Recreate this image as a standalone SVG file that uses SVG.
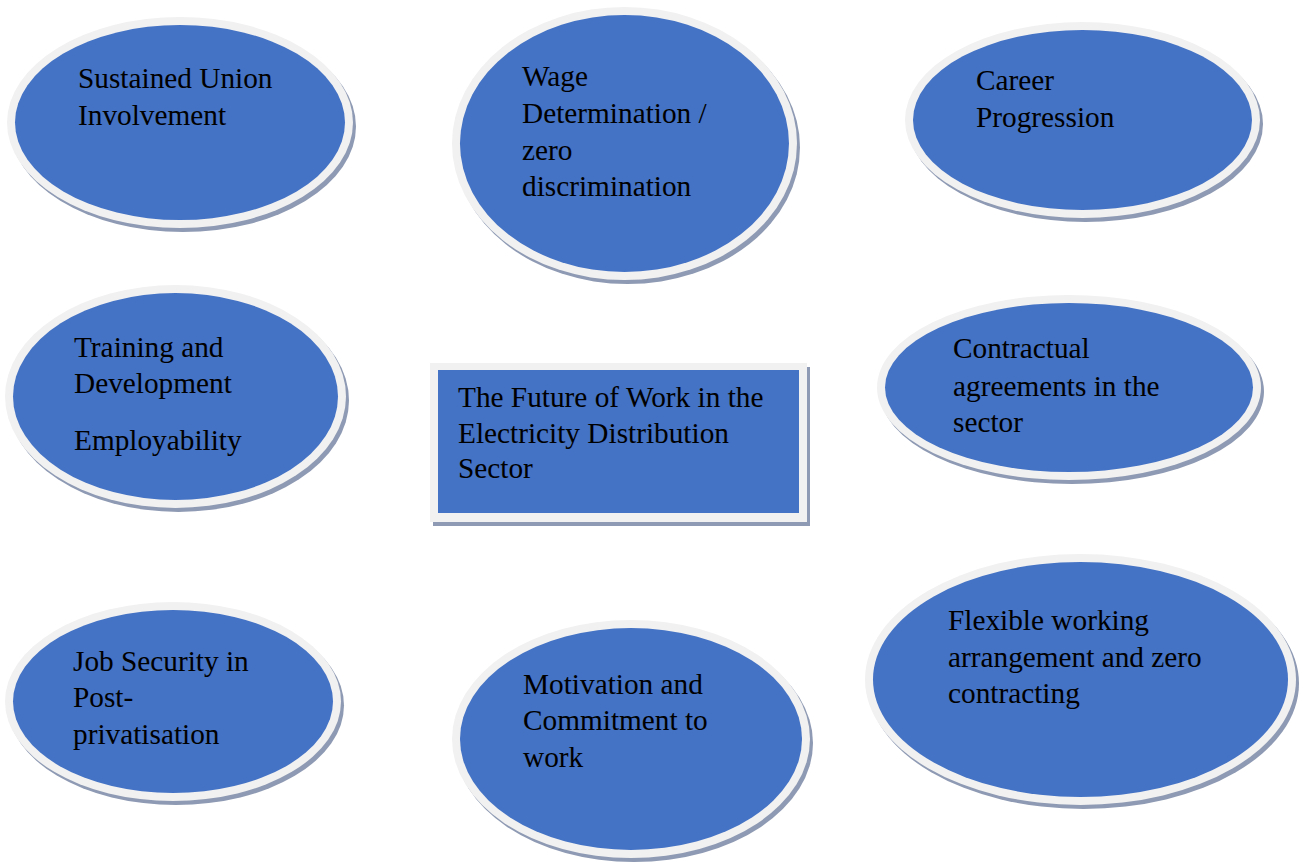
<svg xmlns="http://www.w3.org/2000/svg" width="1304" height="862" viewBox="0 0 1304 862">
<style>
.sh{fill:#8E9AB3}
.rg{fill:#F1F1F1}
.bl{fill:#4472C4}
text{font-family:"Liberation Serif","Times New Roman",serif;font-size:29.3px;fill:#000}
</style>
<rect width="1304" height="862" fill="#FFFFFF"/>
<g id="n-union">
<ellipse class="sh" cx="183" cy="126.5" rx="173" ry="105.5"/>
<ellipse class="rg" cx="180" cy="122.5" rx="173" ry="105.5"/>
<ellipse class="bl" cx="180" cy="122.5" rx="165" ry="97.5"/>
<text x="78" y="88">Sustained Union</text>
<text x="78" y="125">Involvement</text>
</g>
<g id="n-wage">
<ellipse class="sh" cx="627.5" cy="147.5" rx="172.5" ry="136.5"/>
<ellipse class="rg" cx="624.5" cy="143.5" rx="172.5" ry="136.5"/>
<ellipse class="bl" cx="624.5" cy="143.5" rx="164.5" ry="128.5"/>
<text x="522" y="86">Wage</text>
<text x="522" y="123">Determination /</text>
<text x="522" y="159.5">zero</text>
<text x="522" y="196">discrimination</text>
</g>
<g id="n-career">
<ellipse class="sh" cx="1085.5" cy="124" rx="177.5" ry="98"/>
<ellipse class="rg" cx="1082.5" cy="120" rx="177.5" ry="98"/>
<ellipse class="bl" cx="1082.5" cy="120" rx="169.5" ry="90"/>
<text x="976" y="90">Career</text>
<text x="976" y="127">Progression</text>
</g>
<g id="n-training">
<ellipse class="sh" cx="178.5" cy="400.5" rx="170.5" ry="111.5"/>
<ellipse class="rg" cx="175.5" cy="396.5" rx="170.5" ry="111.5"/>
<ellipse class="bl" cx="175.5" cy="396.5" rx="162.5" ry="103.5"/>
<text x="74" y="357">Training and</text>
<text x="74" y="393">Development</text>
<text x="74" y="450">Employability</text>
</g>
<g id="n-center">
<rect class="sh" x="433" y="367" width="377" height="159"/>
<rect class="rg" x="430" y="363" width="377" height="159"/>
<rect class="bl" x="438" y="370" width="361" height="143"/>
<text x="458" y="407">The Future of Work in the</text>
<text x="458" y="443">Electricity Distribution</text>
<text x="458" y="478">Sector</text>
</g>
<g id="n-contract">
<ellipse class="sh" cx="1072" cy="391.5" rx="192" ry="92.5"/>
<ellipse class="rg" cx="1069" cy="387.5" rx="192" ry="92.5"/>
<ellipse class="bl" cx="1069" cy="387.5" rx="184" ry="84.5"/>
<text x="953" y="358">Contractual</text>
<text x="953" y="396">agreements in the</text>
<text x="953" y="432">sector</text>
</g>
<g id="n-job">
<ellipse class="sh" cx="176" cy="705.5" rx="168" ry="99.5"/>
<ellipse class="rg" cx="173" cy="701.5" rx="168" ry="99.5"/>
<ellipse class="bl" cx="173" cy="701.5" rx="160" ry="91.5"/>
<text x="73" y="671">Job Security in</text>
<text x="73" y="707">Post-</text>
<text x="73" y="744">privatisation</text>
</g>
<g id="n-motivation">
<ellipse class="sh" cx="634" cy="743" rx="179" ry="119"/>
<ellipse class="rg" cx="631" cy="739" rx="179" ry="119"/>
<ellipse class="bl" cx="631" cy="739" rx="171" ry="111"/>
<text x="523" y="694">Motivation and</text>
<text x="523" y="730">Commitment to</text>
<text x="523" y="767">work</text>
</g>
<g id="n-flexible">
<ellipse class="sh" cx="1083.5" cy="683.5" rx="215.5" ry="125.5"/>
<ellipse class="rg" cx="1080.5" cy="679.5" rx="215.5" ry="125.5"/>
<ellipse class="bl" cx="1080.5" cy="679.5" rx="207.5" ry="117.5"/>
<text x="948" y="630">Flexible working</text>
<text x="948" y="667">arrangement and zero</text>
<text x="948" y="703">contracting</text>
</g>
</svg>
